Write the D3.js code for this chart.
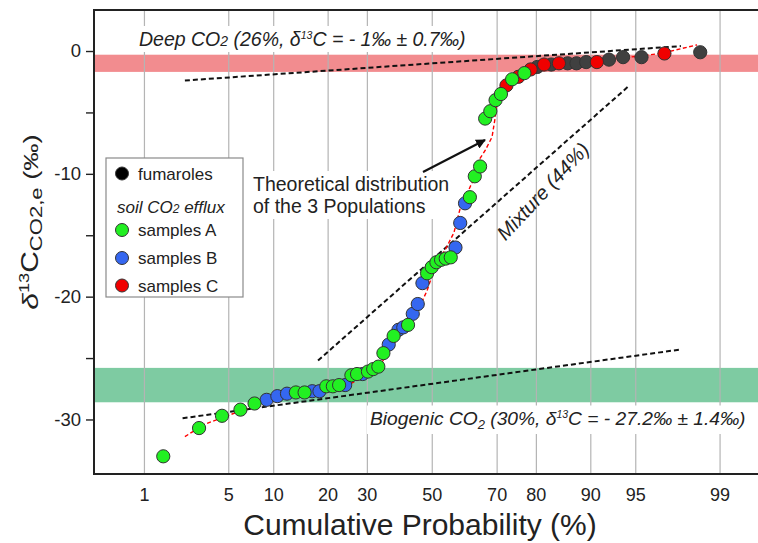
<!DOCTYPE html>
<html><head><meta charset="utf-8">
<script src="https://cdn.jsdelivr.net/npm/d3@7/dist/d3.min.js"></script>
<style>
body{margin:0;background:#fff;}
svg{display:block;font-family:"Liberation Sans",Arial,sans-serif;}
</style>
</head><body>
<svg id="chart" width="758" height="543"></svg>
<script>
// ---------- data ----------
const probTicks = [1, 5, 10, 20, 30, 50, 70, 80, 90, 95, 99];
const yTicksMajor = [0, -10, -20, -30];
const yTicksMinor = [-5, -15, -25];

const cumProb = [1.5,3.0,4.5,6.1,7.6,9.1,10.6,12.1,13.6,15.2,16.7,18.2,19.7,21.2,22.7,24.2,25.8,27.3,28.8,30.3,31.8,33.3,34.8,36.4,37.9,39.4,40.9,42.4,43.9,45.5,47.0,48.5,50.0,51.5,53.0,54.5,56.1,57.6,59.1,60.6,62.1,63.6,65.2,66.7,68.2,69.7,71.2,72.7,74.2,75.8,77.3,78.8,80.3,81.8,83.3,84.8,86.4,87.9,89.4,90.9,92.4,93.9,95.5,97.0,98.5];
const d13C = [-33.0,-30.7,-29.7,-29.2,-28.7,-28.4,-28.1,-27.9,-27.8,-27.8,-27.7,-27.7,-27.3,-27.3,-27.2,-27.2,-26.4,-26.3,-26.3,-26.1,-25.9,-25.7,-24.6,-23.9,-23.2,-22.7,-22.5,-22.3,-21.4,-20.6,-18.9,-18.1,-17.6,-17.2,-17.0,-16.9,-16.8,-16.0,-14.0,-12.4,-11.9,-10.2,-9.4,-5.5,-4.9,-4.0,-3.5,-2.8,-2.3,-2.1,-1.8,-1.5,-1.3,-1.1,-1.1,-1.0,-1.0,-1.0,-0.9,-0.9,-0.7,-0.5,-0.5,-0.2,-0.1];
const group = ["A","A","A","A","A","B","B","B","A","A","B","B","A","A","A","B","A","A","B","A","A","A","A","B","A","B","B","A","B","B","B","A","A","A","A","A","A","B","B","B","A","A","A","A","A","A","A","C","A","C","A","C","F","C","F","C","F","F","F","C","F","F","F","C","F"];

// theoretical distribution of the 3 populations (red dashed)
const curveProb = [2.3,3.3,5.2,8.3,12.6,18.3,24.2,29.5,33.8,37.4,41.5,45.6,48.5,51.4,54.3,57.1,59.0,62.8,64.3,66.7,68.7,69.6,70.1,70.9,73.1,76.2,80.9,86.8,91.3,94.5,96.8,98.4];
const curveD13C = [-31.4,-30.4,-29.6,-28.7,-28.1,-27.7,-27.3,-26.5,-25.6,-24.0,-22.6,-21.1,-19.5,-17.3,-16.2,-14.8,-12.9,-10.7,-9.1,-8.1,-7.0,-5.4,-4.0,-2.9,-2.2,-1.6,-1.2,-1.0,-0.8,-0.5,-0.2,0.5];

// population lines (black dashed)
const deepLineProb = [2.3, 97.8], deepLineD13C = [-2.4, 0.4];
const mixLineProb = [17.9, 94.5], mixLineD13C = [-25.2, -2.8];
const bioLineProb = [2.2, 97.8], bioLineD13C = [-29.9, -24.3];

// population bands (mean ± sd)
const deepBand = [-0.3, -1.7];
const bioBand = [-25.8, -28.6];

const groupColor = {F:"#404040", A:"#22f022", B:"#3567f0", C:"#f00000"};
const legendItems = [["F","fumaroles"],["A","samples A"],["B","samples B"],["C","samples C"]];

// ---------- helpers ----------
function probit(p){
  const a=[-3.969683028665376e+01,2.209460984245205e+02,-2.759285104469687e+02,1.383577518672690e+02,-3.066479806614716e+01,2.506628277459239e+00];
  const b=[-5.447609879822406e+01,1.615858368580409e+02,-1.556989798598866e+02,6.680131188771972e+01,-1.328068155288572e+01];
  const c=[-7.784894002430293e-03,-3.223964580411365e-01,-2.400758277161838e+00,-2.549732539343734e+00,4.374664141464968e+00,2.938163982698783e+00];
  const d=[7.784695709041462e-03,3.224671290700398e-01,2.445134137142996e+00,3.754408661907416e+00];
  const pl=0.02425, ph=1-pl; let q, r;
  if(p<pl){q=Math.sqrt(-2*Math.log(p));return (((((c[0]*q+c[1])*q+c[2])*q+c[3])*q+c[4])*q+c[5])/((((d[0]*q+d[1])*q+d[2])*q+d[3])*q+1);}
  if(p<=ph){q=p-0.5;r=q*q;return (((((a[0]*r+a[1])*r+a[2])*r+a[3])*r+a[4])*r+a[5])*q/(((((b[0]*r+b[1])*r+b[2])*r+b[3])*r+b[4])*r+1);}
  q=Math.sqrt(-2*Math.log(1-p));return -(((((c[0]*q+c[1])*q+c[2])*q+c[3])*q+c[4])*q+c[5])/((((d[0]*q+d[1])*q+d[2])*q+d[3])*q+1);
}

// ---------- layout ----------
const L = 94, R = 758, T = 10, B = 474;
const svg = d3.select("#chart");
const zScale = d3.scaleLinear().domain([-2.73, 2.637]).range([L, R]);
const x = p => zScale(probit(p / 100));
const y = d3.scaleLinear().domain([-34.44, 3.34]).range([B, T]);

// bands
svg.append("rect").attr("x", L).attr("width", R - L + 10)
  .attr("y", y(deepBand[0])).attr("height", y(deepBand[1]) - y(deepBand[0]))
  .attr("fill", "#f28c8f");
svg.append("rect").attr("x", L).attr("width", R - L + 10)
  .attr("y", y(bioBand[0])).attr("height", y(bioBand[1]) - y(bioBand[0]))
  .attr("fill", "#7ecba2");

// x axis with grid
const xAxis = d3.axisBottom(zScale)
  .tickValues(probTicks.map(p => probit(p / 100)))
  .tickFormat((d, i) => probTicks[i])
  .tickSize(-(B - T)).tickPadding(12);
const gx = svg.append("g").attr("transform", `translate(0,${B})`).call(xAxis);
gx.select(".domain").remove();
gx.selectAll(".tick line").attr("stroke", "#b4b4b4").attr("stroke-width", 1.2);
gx.selectAll(".tick text").attr("font-size", 18).attr("fill", "#222")
  .attr("font-family", "Liberation Sans, Arial, sans-serif").attr("dy", "0.95em").attr("y", 10);

// y axis
const yAxis = d3.axisLeft(y).tickValues(yTicksMajor.concat(yTicksMinor))
  .tickFormat(d => yTicksMajor.includes(d) ? d : "")
  .tickSize(8).tickPadding(5);
const gy = svg.append("g").attr("transform", `translate(${L},0)`).call(yAxis);
gy.select(".domain").remove();
gy.selectAll(".tick line").attr("stroke", "#222").attr("stroke-width", 1.4);
gy.selectAll(".tick text").attr("font-size", 18.5).attr("fill", "#222")
  .attr("font-family", "Liberation Sans, Arial, sans-serif");

// frame
svg.append("rect").attr("x", L).attr("y", T).attr("width", R - L + 20).attr("height", B - T)
  .attr("fill", "none").attr("stroke", "#222").attr("stroke-width", 2);

// text with white box helper
function boxed(g, pad){
  const bb = g.node().getBBox();
  g.insert("rect", ":first-child").attr("x", bb.x - pad).attr("y", bb.y - pad + 1)
    .attr("width", bb.width + 2 * pad).attr("height", bb.height + 2 * pad - 2).attr("fill", "#fff");
}

// Deep label
const gDeep = svg.append("g");
const tDeep = gDeep.append("text").attr("x", 139).attr("y", 46).attr("font-size", 19.5)
  .attr("font-style", "italic").attr("fill", "#222");
tDeep.append("tspan").text("Deep CO");
tDeep.append("tspan").attr("font-size", 14).text("2");
tDeep.append("tspan").text(" (26%, δ");
tDeep.append("tspan").attr("font-size", 10.5).attr("dy", -7.5).text("13");
tDeep.append("tspan").attr("dy", 7.5).text("C = - 1‰ ± 0.7‰)");
boxed(gDeep, 3);

// Biogenic label
const gBio = svg.append("g");
const tBio = gBio.append("text").attr("x", 370).attr("y", 425).attr("font-size", 19.2)
  .attr("font-style", "italic").attr("fill", "#222");
tBio.append("tspan").text("Biogenic CO");
tBio.append("tspan").attr("font-size", 13).attr("dy", 4).text("2");
tBio.append("tspan").attr("dy", -4).text(" (30%, δ");
tBio.append("tspan").attr("font-size", 10.5).attr("dy", -7.5).text("13");
tBio.append("tspan").attr("dy", 7.5).text("C = - 27.2‰ ± 1.4‰)");
boxed(gBio, 3);

// Theoretical distribution annotation
const gTh = svg.append("g");
const tTh = gTh.append("text").attr("font-size", 19.5).attr("fill", "#222");
tTh.append("tspan").attr("x", 253).attr("y", 191).text("Theoretical distribution");
tTh.append("tspan").attr("x", 253).attr("y", 213).text("of the 3 Populations");
boxed(gTh, 3);

// dashed population lines
const line = d3.line().x(d => x(d[0])).y(d => y(d[1]));
[[deepLineProb, deepLineD13C],[mixLineProb, mixLineD13C],[bioLineProb, bioLineD13C]].forEach(([P, V]) => {
  svg.append("path").datum(P.map((p, i) => [p, V[i]])).attr("d", line)
    .attr("fill", "none").attr("stroke", "#111").attr("stroke-width", 2).attr("stroke-dasharray", "5,3");
});

// theoretical curve
svg.append("path").datum(curveProb.map((p, i) => [p, curveD13C[i]])).attr("d", line)
  .attr("fill", "none").attr("stroke", "#f00").attr("stroke-width", 1.4).attr("stroke-dasharray", "4,2.5");

// Mixture label
svg.append("text").attr("transform", "translate(548,196) rotate(-47)")
  .attr("text-anchor", "middle").attr("font-size", 20).attr("font-style", "italic")
  .attr("fill", "#222").text("Mixture (44%)");

// arrow
svg.append("defs").append("marker").attr("id", "ah").attr("viewBox", "0 0 10 10")
  .attr("refX", 9).attr("refY", 5).attr("markerWidth", 4.5).attr("markerHeight", 4.5)
  .attr("orient", "auto").append("path").attr("d", "M0,0 L10,5 L0,10 z").attr("fill", "#111");
svg.append("line").attr("x1", 423).attr("y1", 172).attr("x2", 485).attr("y2", 140)
  .attr("stroke", "#111").attr("stroke-width", 2.2).attr("marker-end", "url(#ah)");

// points
const pts = cumProb.map((p, i) => ({p, v: d13C[i], g: group[i]}));
const order = {F:0, C:1, B:2, A:3};
pts.sort((a, b) => order[a.g] - order[b.g]);
svg.append("g").selectAll("circle").data(pts).join("circle")
  .attr("cx", d => x(d.p)).attr("cy", d => y(d.v)).attr("r", 6.6)
  .attr("fill", d => groupColor[d.g]).attr("stroke", "#333").attr("stroke-width", 1);

// legend
const lg = svg.append("g");
lg.append("rect").attr("x", 106).attr("y", 158).attr("width", 137).attr("height", 139)
  .attr("fill", "#fff").attr("stroke", "#8a8a8a").attr("stroke-width", 1.2);
const legY = {F:173.5, A:230, B:258, C:285.5};
legendItems.forEach(([g, label]) => {
  lg.append("circle").attr("cx", 122).attr("cy", legY[g]).attr("r", 6.5)
    .attr("fill", g === "F" ? "#000" : groupColor[g]).attr("stroke", "#333").attr("stroke-width", 1);
  lg.append("text").attr("x", 138).attr("y", legY[g] + 6).attr("font-size", 17).attr("fill", "#222").text(label);
});
const tSoil = lg.append("text").attr("x", 117).attr("y", 213).attr("font-size", 17)
  .attr("font-style", "italic").attr("fill", "#222");
tSoil.append("tspan").text("soil CO");
tSoil.append("tspan").attr("font-size", 12).text("2");
tSoil.append("tspan").text(" efflux");

// axis titles
svg.append("text").attr("x", 420).attr("y", 535).attr("text-anchor", "middle")
  .attr("font-size", 30).attr("fill", "#222").text("Cumulative Probability (%)");

const yt = svg.append("text").attr("transform", "translate(38,222) rotate(-90) scale(1.3,1)")
  .attr("text-anchor", "middle").attr("font-size", 23).attr("fill", "#222");
yt.append("tspan").attr("font-style", "italic").text("δ");
yt.append("tspan").attr("font-size", 14).attr("dy", -9).text("13");
yt.append("tspan").attr("dy", 9).text("C");
yt.append("tspan").attr("font-size", 17).attr("dy", 4).text("CO2,e");
yt.append("tspan").attr("dy", -4).attr("font-size", 21).text(" (‰)");
</script>
</body></html>
